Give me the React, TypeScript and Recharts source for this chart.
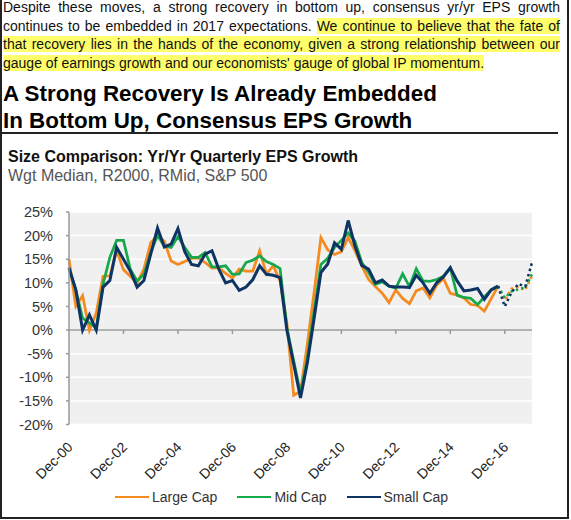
import { LineChart, Line, XAxis, YAxis, CartesianGrid, ReferenceLine, Legend } from 'recharts'

// quarterly points, Dec-00 (index 0) .. Dec-17 (index 68)
const LAST_ACTUAL = 63
const LAST_INDEX = 68

const LARGE_CAP = [
  15.0, 5.0, 7.3, 0.0, 3.6, 11.4, 11.5, 16.8, 12.8, 11.4,
  10.0, 12.9, 18.5, 20.0, 18.8, 14.6, 13.9, 14.5, 15.2, 15.3,
  14.3, 13.1, 13.2, 12.0, 11.0, 12.9, 12.5, 12.5, 16.8, 11.9,
  13.6, 10.4, 1.5, -13.8, -13.0, -3.0, 8.0, 19.6, 17.0, 16.0,
  16.6, 19.6, 16.8, 13.6, 10.7, 9.2, 7.8, 5.8, 8.5, 6.7,
  5.6, 8.3, 8.9, 6.8, 9.5, 10.9, 7.8, 7.4, 6.8, 5.4,
  5.2, 4.0, 6.6, 9.3,
]
const MID_CAP = [
  13.0, 8.5, 2.5, 1.5, 0.5, 9.7, 15.4, 19.0, 19.0, 12.9,
  10.4, 11.8, 16.4, 20.0, 17.8, 17.5, 19.8, 17.5, 15.4, 15.4,
  16.4, 13.4, 13.4, 13.6, 11.8, 11.9, 14.3, 14.8, 15.7, 14.5,
  13.9, 13.0, 0.5, -6.5, -13.4, -6.0, 4.0, 13.9, 15.2, 17.5,
  19.0, 20.6, 18.8, 14.3, 12.2, 9.7, 10.2, 9.3, 8.9, 11.9,
  9.2, 13.0, 10.4, 10.3, 10.7, 11.4, 13.2, 7.4, 6.9, 6.7,
  5.4, 7.0, 8.5, 9.3,
]
const SMALL_CAP = [
  13.2, 8.5, 0.0, 3.2, 0.0, 9.1, 10.5, 17.5, 15.0, 12.5,
  9.1, 10.5, 16.1, 21.6, 17.6, 18.2, 21.5, 16.6, 13.9, 13.6,
  16.1, 16.8, 12.9, 10.0, 10.5, 8.4, 9.1, 10.7, 13.6, 11.8,
  11.6, 11.1, 0.0, -7.2, -14.4, -7.0, 2.5, 12.2, 14.0, 18.5,
  17.1, 23.2, 17.8, 13.7, 12.9, 10.0, 10.6, 9.3, 9.1, 9.1,
  9.0, 11.6, 10.0, 7.8, 10.0, 11.3, 13.2, 10.4, 8.3, 8.5,
  8.8, 6.5, 8.5, 9.3,
]

// consensus estimates, Sep-16 .. Dec-17 (dotted)
const LARGE_CAP_EST = [9.3, 6.4, 8.8, 9.1, 8.5, 11.5]
const MID_CAP_EST = [9.3, 6.8, 8.2, 8.6, 9.0, 11.8]
const SMALL_CAP_EST = [9.3, 5.0, 8.0, 9.8, 9.2, 14.3]

const X_TICKS = [0, 8, 16, 24, 32, 40, 48, 56, 64]
const X_LABELS = ['Dec-00', 'Dec-02', 'Dec-04', 'Dec-06', 'Dec-08', 'Dec-10', 'Dec-12', 'Dec-14', 'Dec-16']
const Y_TICKS = [-20, -15, -10, -5, 0, 5, 10, 15, 20, 25]

const SERIES = [
  { key: 'large', name: 'Large Cap', color: '#F58A1F', width: 2.75 },
  { key: 'mid', name: 'Mid Cap', color: '#17A84B', width: 2.75 },
  { key: 'small', name: 'Small Cap', color: '#0E3463', width: 3 },
]

const data = Array.from({ length: LAST_INDEX + 1 }, (_, i) => {
  const est = i >= LAST_ACTUAL ? i - LAST_ACTUAL : -1
  return {
    i,
    large: i <= LAST_ACTUAL ? LARGE_CAP[i] : null,
    mid: i <= LAST_ACTUAL ? MID_CAP[i] : null,
    small: i <= LAST_ACTUAL ? SMALL_CAP[i] : null,
    largeEst: est >= 0 ? LARGE_CAP_EST[est] : null,
    midEst: est >= 0 ? MID_CAP_EST[est] : null,
    smallEst: est >= 0 ? SMALL_CAP_EST[est] : null,
  }
})

const FONT = '"Liberation Sans", Arial, sans-serif'
const AXIS_GREY = '#9a9a9a'

function XTick({ x, y, payload }: any) {
  const label = X_LABELS[X_TICKS.indexOf(payload.value)]
  const px = x + 4.5
  const py = y + 23.5
  return (
    <text
      x={px}
      y={py}
      transform={`rotate(-45 ${px} ${py})`}
      textAnchor="end"
      fontSize={14}
      fontFamily={FONT}
      fill="#222"
    >
      {label}
    </text>
  )
}

function LegendContent() {
  return (
    <div
      style={{
        height: 20,
        display: 'flex',
        alignItems: 'center',
        justifyContent: 'flex-start',
        paddingLeft: 115,
        fontFamily: FONT,
        fontSize: 14,
        color: '#333',
      }}
    >
      {SERIES.map(s => (
        <div key={s.key} style={{ display: 'flex', alignItems: 'center', marginRight: 20 }}>
          <div style={{ width: 34, height: 2.5, background: s.color, marginRight: 3 }} />
          <span>{s.name}</span>
        </div>
      ))}
    </div>
  )
}

const para: React.CSSProperties = {
  height: 18.7,
  lineHeight: '18.7px',
  whiteSpace: 'nowrap',
  textAlign: 'justify',
  textAlignLast: 'justify',
}
const hl: React.CSSProperties = { background: '#FFFF6B' }

export default function App() {
  return (
    <div
      style={{
        position: 'absolute',
        left: 0,
        top: 0,
        width: 571,
        height: 520,
        background: '#fff',
        overflow: 'hidden',
        fontFamily: FONT,
        color: '#111',
      }}
    >
      {/* frame */}
      <div style={{ position: 'absolute', left: 0, top: 0, width: 1.5, height: 519, background: '#222' }} />
      <div style={{ position: 'absolute', left: 567, top: 0, width: 2, height: 519, background: '#222' }} />
      <div style={{ position: 'absolute', left: 0, top: 517, width: 569, height: 2, background: '#222' }} />

      {/* commentary */}
      <div style={{ position: 'absolute', left: 3, top: -2, width: 557, fontSize: 14, whiteSpace: 'normal' }}>
        <div style={para}>Despite these moves, a strong recovery in bottom up, consensus yr/yr EPS growth</div>
        <div style={para}>
          continues to be embedded in 2017 expectations. <span style={hl}>We continue to believe that the fate of</span>
        </div>
        <div style={para}>
          <span style={hl}>that recovery lies in the hands of the economy, given a strong relationship between our</span>
        </div>
        <div style={{ ...para, textAlign: 'left', textAlignLast: 'left' }}>
          <span style={hl}>gauge of earnings growth and our economists' gauge of global IP momentum.</span>
        </div>
      </div>

      {/* heading */}
      <div
        style={{
          position: 'absolute',
          left: 3,
          top: 79.5,
          fontSize: 22.4,
          fontWeight: 'bold',
          lineHeight: '27px',
          color: '#000',
        }}
      >
        <div>A Strong Recovery Is Already Embedded</div>
        <div>In Bottom Up, Consensus EPS Growth</div>
      </div>
      <div style={{ position: 'absolute', left: 0, top: 132, width: 558, height: 1.5, background: '#222' }} />

      <div style={{ position: 'absolute', left: 8, top: 146.5, fontSize: 16, fontWeight: 'bold', lineHeight: '19px', color: '#111' }}>
        Size Comparison: Yr/Yr Quarterly EPS Growth
      </div>
      <div style={{ position: 'absolute', left: 8, top: 165.5, fontSize: 16, lineHeight: '19px', color: '#555' }}>
        Wgt Median, R2000, RMid, S&amp;P 500
      </div>

      <div style={{ position: 'absolute', left: 0, top: 190 }}>
        <LineChart width={571} height={328} data={data} margin={{ top: 22, right: 39, left: 0, bottom: 11 }}>
          <CartesianGrid vertical={false} fill="#F0F0F0" stroke="#fff" strokeWidth={1.5} />
          <XAxis
            dataKey="i"
            type="number"
            domain={[0, LAST_INDEX]}
            ticks={X_TICKS}
            interval={0}
            axisLine={false}
            tickLine={false}
            tickSize={0}
            tickMargin={0}
            height={62.5}
            tick={<XTick />}
          />
          <YAxis
            domain={[-20, 25]}
            ticks={Y_TICKS}
            interval={0}
            width={69}
            tickSize={3}
            tickMargin={13}
            axisLine={{ stroke: AXIS_GREY, strokeWidth: 1.5 }}
            tickLine={{ stroke: AXIS_GREY, strokeWidth: 1.5 }}
            tickFormatter={(v: number) => `${v}%`}
            tick={{ fontSize: 14.5, fontFamily: FONT, fill: '#333' }}
          />
          <ReferenceLine y={0} stroke={AXIS_GREY} strokeWidth={1.5} />
          {X_TICKS.slice(1).map(t => (
            <ReferenceLine
              key={t}
              segment={[{ x: t, y: 0 }, { x: t, y: -0.85 }]}
              stroke={AXIS_GREY}
              strokeWidth={1.5}
            />
          ))}
          <Legend verticalAlign="bottom" content={<LegendContent />} />
          {SERIES.map(s => (
            <Line
              key={s.key}
              type="linear"
              dataKey={s.key}
              name={s.name}
              stroke={s.color}
              strokeWidth={s.width}
              dot={false}
              connectNulls={false}
              isAnimationActive={false}
            />
          ))}
          {SERIES.map(s => (
            <Line
              key={s.key + 'Est'}
              type="linear"
              dataKey={s.key + 'Est'}
              legendType="none"
              stroke={s.color}
              strokeWidth={2.5}
              strokeDasharray="2.5 3"
              dot={false}
              isAnimationActive={false}
            />
          ))}
        </LineChart>
      </div>
    </div>
  )
}
